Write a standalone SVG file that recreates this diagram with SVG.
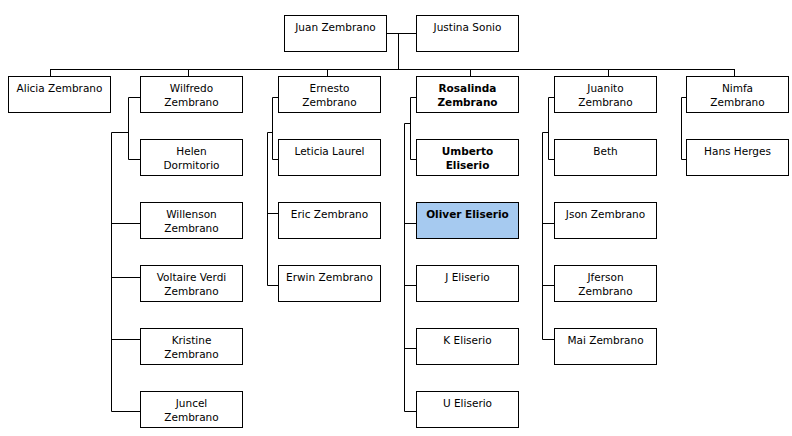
<svg xmlns="http://www.w3.org/2000/svg" width="792" height="436" viewBox="0 0 792 436">
<style>
.b{fill:#fff;stroke:#000;stroke-width:1}
.hl{fill:#a6caf0}
.t{font-family:"DejaVu Sans",Verdana,sans-serif;font-size:10.5px;fill:#000;text-anchor:middle}
.bd{font-weight:bold}
.c{fill:none;stroke:#000;stroke-width:1}
</style>
<rect width="792" height="436" fill="#fff"/>
<g id="connectors" class="c">
<path d="M387 33.5H416M398.5 33V69"/>
<path d="M50.5 69.5H734.5M50.5 69V76M188.5 69V76M327.5 69V76M470.5 69V76M608.5 69V76M734.5 69V76"/>
<path d="M140 97.5H128.5V159.5H140M128.5 132.5H111.5V411.5H140M111 223.5H140M111 277.5H140M111 339.5H140"/>
<path d="M278 97.5H272.5V159.5H278M272.5 132.5H267.5V285.5H278M267 213.5H278"/>
<path d="M416 97.5H410.5V159.5H416M410.5 123.5H404.5V411.5H416M404 223.5H416M404 285.5H416M404 348.5H416"/>
<path d="M554 97.5H548.5V159.5H554M548.5 132.5H542.5V339.5H554M542 223.5H554M542 285.5H554"/>
<path d="M686 97.5H681.5V159.5H686"/>
</g>
<g id="juan"><rect class="b" x="284.5" y="15.5" width="102" height="36"/><text class="t" x="335.5" y="31">Juan Zembrano</text></g>
<g id="justina"><rect class="b" x="416.5" y="15.5" width="102" height="36"/><text class="t" x="467.5" y="31">Justina Sonio</text></g>
<g id="alicia"><rect class="b" x="8.5" y="76.5" width="102" height="36"/><text class="t" x="59.5" y="92">Alicia Zembrano</text></g>
<g id="wilfredo"><rect class="b" x="140.5" y="76.5" width="102" height="36"/><text class="t" x="191.5" y="92">Wilfredo</text><text class="t" x="191.5" y="106">Zembrano</text></g>
<g id="ernesto"><rect class="b" x="278.5" y="76.5" width="102" height="36"/><text class="t" x="329.5" y="92">Ernesto</text><text class="t" x="329.5" y="106">Zembrano</text></g>
<g id="rosalinda"><rect class="b" x="416.5" y="76.5" width="102" height="36"/><text class="t bd" x="467.5" y="92">Rosalinda</text><text class="t bd" x="467.5" y="106">Zembrano</text></g>
<g id="juanito"><rect class="b" x="554.5" y="76.5" width="102" height="36"/><text class="t" x="605.5" y="92">Juanito</text><text class="t" x="605.5" y="106">Zembrano</text></g>
<g id="nimfa"><rect class="b" x="686.5" y="76.5" width="102" height="36"/><text class="t" x="737.5" y="92">Nimfa</text><text class="t" x="737.5" y="106">Zembrano</text></g>
<g id="helen"><rect class="b" x="140.5" y="139.5" width="102" height="36"/><text class="t" x="191.5" y="155">Helen</text><text class="t" x="191.5" y="169">Dormitorio</text></g>
<g id="leticia"><rect class="b" x="278.5" y="139.5" width="102" height="36"/><text class="t" x="329.5" y="155">Leticia Laurel</text></g>
<g id="umberto"><rect class="b" x="416.5" y="139.5" width="102" height="36"/><text class="t bd" x="467.5" y="155">Umberto</text><text class="t bd" x="467.5" y="169">Eliserio</text></g>
<g id="beth"><rect class="b" x="554.5" y="139.5" width="102" height="36"/><text class="t" x="605.5" y="155">Beth</text></g>
<g id="hans"><rect class="b" x="686.5" y="139.5" width="102" height="36"/><text class="t" x="737.5" y="155">Hans Herges</text></g>
<g id="willenson"><rect class="b" x="140.5" y="202.5" width="102" height="36"/><text class="t" x="191.5" y="218">Willenson</text><text class="t" x="191.5" y="232">Zembrano</text></g>
<g id="eric"><rect class="b" x="278.5" y="202.5" width="102" height="36"/><text class="t" x="329.5" y="218">Eric Zembrano</text></g>
<g id="oliver"><rect class="b hl" x="416.5" y="202.5" width="102" height="36"/><text class="t bd" x="467.5" y="218">Oliver Eliserio</text></g>
<g id="json"><rect class="b" x="554.5" y="202.5" width="102" height="36"/><text class="t" x="605.5" y="218">Json Zembrano</text></g>
<g id="voltaire"><rect class="b" x="140.5" y="265.5" width="102" height="36"/><text class="t" x="191.5" y="281">Voltaire Verdi</text><text class="t" x="191.5" y="295">Zembrano</text></g>
<g id="erwin"><rect class="b" x="278.5" y="265.5" width="102" height="36"/><text class="t" x="329.5" y="281">Erwin Zembrano</text></g>
<g id="j-eliserio"><rect class="b" x="416.5" y="265.5" width="102" height="36"/><text class="t" x="467.5" y="281">J Eliserio</text></g>
<g id="jferson"><rect class="b" x="554.5" y="265.5" width="102" height="36"/><text class="t" x="605.5" y="281">Jferson</text><text class="t" x="605.5" y="295">Zembrano</text></g>
<g id="kristine"><rect class="b" x="140.5" y="328.5" width="102" height="36"/><text class="t" x="191.5" y="344">Kristine</text><text class="t" x="191.5" y="358">Zembrano</text></g>
<g id="k-eliserio"><rect class="b" x="416.5" y="328.5" width="102" height="36"/><text class="t" x="467.5" y="344">K Eliserio</text></g>
<g id="mai"><rect class="b" x="554.5" y="328.5" width="102" height="36"/><text class="t" x="605.5" y="344">Mai Zembrano</text></g>
<g id="juncel"><rect class="b" x="140.5" y="391.5" width="102" height="36"/><text class="t" x="191.5" y="407">Juncel</text><text class="t" x="191.5" y="421">Zembrano</text></g>
<g id="u-eliserio"><rect class="b" x="416.5" y="391.5" width="102" height="36"/><text class="t" x="467.5" y="407">U Eliserio</text></g>
</svg>
